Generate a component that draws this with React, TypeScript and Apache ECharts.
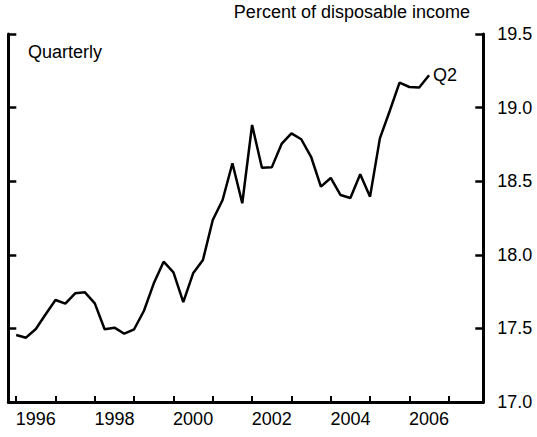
import React, { useEffect, useRef } from "react";
import * as echarts from "echarts";

// Quarterly series, 1995:Q4 through 2006:Q2 (plotted at quarter end)
const startYear = 1995;
const startQuarter = 4;
const ratioValues = [
  17.455, 17.437, 17.496, 17.596, 17.693, 17.668, 17.738, 17.745, 17.67, 17.494,
  17.505, 17.464, 17.494, 17.62, 17.806, 17.953, 17.881, 17.679, 17.874, 17.965,
  18.236, 18.372, 18.622, 18.35, 18.882, 18.592, 18.594, 18.753, 18.825, 18.785,
  18.666, 18.463, 18.522, 18.406, 18.386, 18.547, 18.395, 18.791, 18.977, 19.17,
  19.14, 19.137, 19.22,
];
const yearTicks = [1996, 1997, 1998, 1999, 2000, 2001, 2002, 2003, 2004, 2005, 2006, 2007];
const yearLabels = ["1996", "1998", "2000", "2002", "2004", "2006"];
const yTickLabels = ["17.0", "17.5", "18.0", "18.5", "19.0", "19.5"];

const FONT = "Liberation Sans, Arial, Helvetica, sans-serif";

export default function App() {
  const ref = useRef<HTMLDivElement>(null);

  useEffect(() => {
    if (!ref.current) return;
    const chart = echarts.init(ref.current, null, { renderer: "svg" });
    const data = ratioValues.map((v, i) => [startYear + (startQuarter + i) / 4, v]);
    const labelPositions = yearLabels.map((s) => Number(s) + 0.5);

    chart.setOption({
      animation: false,
      backgroundColor: "#ffffff",
      textStyle: { fontFamily: FONT },
      grid: { left: 8.3, right: 53.7, top: 34, bottom: 35, containLabel: false },
      graphic: [
        {
          type: "text",
          right: 67,
          top: 3,
          style: {
            text: "Percent of disposable income",
            fontSize: 18,
            fontFamily: FONT,
            fill: "#000",
          },
        },
        {
          type: "text",
          left: 28,
          top: 43,
          style: { text: "Quarterly", fontSize: 18, fontFamily: FONT, fill: "#000" },
        },
      ],
      xAxis: {
        type: "value",
        min: 1995.8,
        max: 2007.88,
        splitLine: { show: false },
        axisLine: { show: true, onZero: false, lineStyle: { color: "#000", width: 3 } },
        axisTick: {
          show: true,
          inside: true,
          length: 6,
          customValues: yearTicks,
          lineStyle: { color: "#000", width: 2 },
        },
        axisLabel: {
          show: true,
          customValues: labelPositions,
          formatter: (v: number) => yearLabels[labelPositions.indexOf(v)] ?? "",
          fontSize: 18,
          fontFamily: FONT,
          color: "#000",
          margin: 8,
        },
      },
      yAxis: [
        {
          type: "value",
          position: "left",
          min: 17,
          max: 19.5,
          interval: 0.5,
          splitLine: { show: false },
          axisLine: { show: true, onZero: false, lineStyle: { color: "#000", width: 3 } },
          axisTick: { show: true, inside: true, length: 8, lineStyle: { color: "#000", width: 2.5 } },
          axisLabel: { show: false },
        },
        {
          type: "value",
          position: "right",
          min: 17,
          max: 19.5,
          interval: 0.5,
          splitLine: { show: false },
          axisLine: { show: true, onZero: false, lineStyle: { color: "#000", width: 3 } },
          axisTick: { show: true, inside: true, length: 8, lineStyle: { color: "#000", width: 2.5 } },
          axisLabel: {
            show: true,
            formatter: (v: number) => yTickLabels[Math.round((v - 17) / 0.5)] ?? "",
            fontSize: 18,
            fontFamily: FONT,
            color: "#000",
            margin: 14,
          },
        },
      ],
      series: [
        {
          type: "line",
          data,
          yAxisIndex: 0,
          showSymbol: false,
          symbol: "none",
          lineStyle: { color: "#000", width: 2.5 },
          endLabel: {
            show: true,
            formatter: "Q2",
            distance: 4,
            fontSize: 18,
            fontFamily: FONT,
            color: "#000",
          },
        },
      ],
    });
    return () => chart.dispose();
  }, []);

  return (
    <div
      ref={ref}
      style={{ position: "absolute", left: 0, top: 0, width: 537, height: 437 }}
    />
  );
}
